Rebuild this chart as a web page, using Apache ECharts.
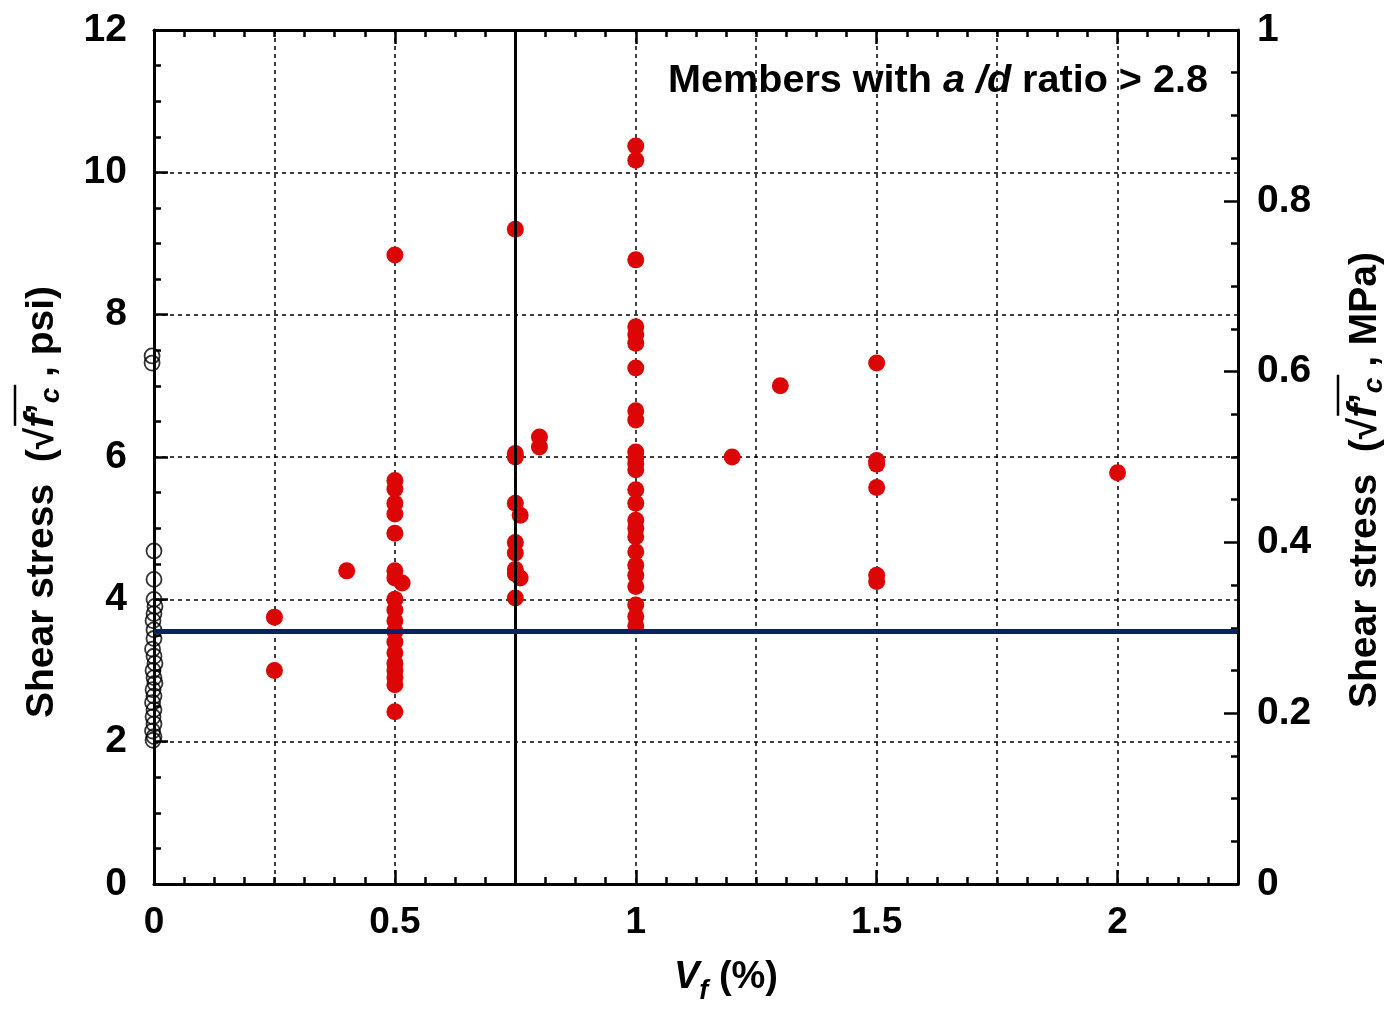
<!DOCTYPE html>
<html>
<head>
<meta charset="utf-8">
<script src="https://cdn.jsdelivr.net/npm/echarts@6/dist/echarts.min.js"></script>
<style>
html,body{margin:0;padding:0;background:#fff;overflow:hidden;}
#chart{position:absolute;left:0;top:0;width:1391px;height:1013px;}
</style>
</head>
<body>
<div id="chart"></div>
<script>
// ---- data ----
var plainVf = [-0.004,-0.004,0,0,0,0.002,0,-0.002,0,0,-0.003,0,0.002,-0.002,0,0.002,-0.002,0,-0.003,0,-0.002,0,-0.003,0,-0.002];
var plainStress = [7.42,7.32,4.68,4.28,4.0,3.9,3.8,3.7,3.57,3.45,3.3,3.2,3.1,3.0,2.9,2.82,2.73,2.64,2.55,2.45,2.35,2.25,2.15,2.07,2.02];

var fiberVf = [
  0.25,0.25,
  0.4,
  0.5,0.5,0.5,0.5,0.5,0.5,0.5,0.5,0.5,0.5,0.5,0.5,0.5,0.5,0.5,0.5,0.5,0.5,0.5,
  0.515,
  0.75,0.75,0.75,0.75,0.75,0.75,0.75,0.75,0.75,
  0.76,0.76,
  0.8,0.8,
  1,1,1,1,1,1,1,1,1,1,1,1,1,1,1,1,1,1,1,1,1,1,1,1,1,
  1.2,
  1.3,
  1.5,1.5,1.5,1.5,1.5,1.5,
  2.0
];
var fiberStress = [
  3.75,3.0,
  4.4,
  8.84,5.67,5.55,5.35,5.2,4.93,4.4,4.3,4.0,3.85,3.7,3.55,3.4,3.25,3.1,3.0,2.9,2.8,2.42,
  4.23,
  9.2,6.05,6.0,5.35,4.8,4.65,4.42,4.36,4.02,
  5.18,4.3,
  6.28,6.14,
  10.37,10.17,8.77,7.83,7.72,7.6,7.25,6.65,6.52,6.07,5.99,5.9,5.82,5.54,5.35,5.11,5.0,4.88,4.67,4.48,4.34,4.18,3.92,3.76,3.63,
  6.0,
  7.0,
  7.32,5.95,5.9,5.57,4.34,4.25,
  5.78
];

var vfDivider = 0.75;      // vertical reference line
var stressLimit = 3.55;    // horizontal reference line
var xTickLabels = [0,0.5,1,1.5,2];

function zip(a,b){ return a.map(function(v,i){ return [v,b[i]]; }); }

var FAM = '"Liberation Sans", Arial, sans-serif';
var FONT = FAM;
var dashed = {show:true, lineStyle:{color:'#000', width:1.5, type:[4,4]}};
var axLine = {show:true, onZero:false, lineStyle:{color:'#000', width:3}};

// composite text label (sequential fragments, optional overline), as graphic group
var mctx = document.createElement('canvas').getContext('2d');
function makeLabel(parts, opts){
  var x = 0, children = [], marks = [];
  parts.forEach(function(p){
    mctx.font = p.font;
    var w = mctx.measureText(p.t).width;
    marks.push([x, x + w]);
    children.push({type:'text', x:x, y:p.dy||0, silent:true,
      style:{text:p.t, font:p.font, fill:'#000', align:'left', verticalAlign:'middle'}});
    x += w;
  });
  var total = x;
  var shift = opts.anchor === 'left' ? 0 : total/2;
  children.forEach(function(c){ c.x -= shift; });
  if (opts.over){
    var a = marks[opts.over[0]][0] - shift + 2, b = marks[opts.over[1]][1] - shift + 3;
    children.push({type:'line', silent:true, shape:{x1:a, y1:opts.overY, x2:b, y2:opts.overY},
      style:{stroke:'#000', lineWidth:2.5}});
  }
  return {type:'group', x:opts.x, y:opts.y, rotation:opts.rot||0, silent:true, children:children};
}
var fN = 'bold 39px ' + FAM, fI = 'italic bold 41px ' + FAM, fS = 'italic bold 28px ' + FAM;
var leftName = makeLabel([
  {t:'Shear stress  (', font:fN},{t:'√', font:fN},{t:'f', font:fI},{t:'’', font:fN},
  {t:'c', font:fS, dy:9},{t:' , psi)', font:fN}
], {x:42, y:502, rot:Math.PI/2, over:[2,4], overY:-27});
var rightName = makeLabel([
  {t:'Shear stress  (', font:fN},{t:'√', font:fN},{t:'f', font:fI},{t:'’', font:fN},
  {t:'c', font:fS, dy:9},{t:' , MPa)', font:fN}
], {x:1365, y:480, rot:Math.PI/2, over:[2,4], overY:-27});
var xName = makeLabel([
  {t:'V', font:'italic bold 38px ' + FAM},{t:'f', font:'italic bold 27px ' + FAM, dy:14},
  {t:' (%)', font:'bold 38px ' + FAM}
], {x:674, y:978, anchor:'left'});

var chart = echarts.init(document.getElementById('chart'), null, {renderer:'canvas'});
chart.setOption({
  animation:false,
  backgroundColor:'#fff',
  grid:{left:154, right:153, top:30, bottom:129, containLabel:false, outerBoundsMode:'none'},
  title:{
    text:'Members with {i|a /d} ratio > 2.8',
    right:178, top:56,
    textStyle:{fontFamily:FONT, fontWeight:'bold', fontSize:39.6, color:'#000',
      rich:{i:{fontFamily:FONT, fontWeight:'bold', fontStyle:'italic', fontSize:39.6, color:'#000'}}}
  },
  graphic:[leftName, rightName, xName],
  xAxis:[
    { // main bottom axis with labels
      type:'value', min:0, max:2.25, interval:0.25, position:'bottom',
      axisLine:axLine,
      axisTick:{show:true, inside:true, length:7, lineStyle:{color:'#000', width:2.5}},
      minorTick:{show:true, splitNumber:4, length:7, lineStyle:{color:'#000', width:2.5}},
      splitLine:dashed,
      axisLabel:{show:true, margin:20, formatter:function(v){
        var k = Math.round(v*100);
        if (xTickLabels.some(function(t){return Math.round(t*100)===k;})) return String(v);
        return '';
      }, fontFamily:FONT, fontWeight:'bold', fontSize:37, color:'#000'}
    },
    { // tall major ticks bottom
      type:'value', min:0, max:2.25, interval:0.5, position:'bottom',
      axisLine:{show:false, onZero:false},
      axisTick:{show:true, inside:true, length:14, lineStyle:{color:'#000', width:2.5}},
      splitLine:{show:false}, axisLabel:{show:false}
    },
    { // top axis
      type:'value', min:0, max:2.25, interval:0.25, position:'top',
      axisLine:axLine,
      axisTick:{show:true, inside:true, length:7, lineStyle:{color:'#000', width:2.5}},
      minorTick:{show:true, splitNumber:4, length:7, lineStyle:{color:'#000', width:2.5}},
      splitLine:{show:false}, axisLabel:{show:false}
    },
    { // tall major ticks top
      type:'value', min:0, max:2.25, interval:0.5, position:'top',
      axisLine:{show:false, onZero:false},
      axisTick:{show:true, inside:true, length:14, lineStyle:{color:'#000', width:2.5}},
      splitLine:{show:false}, axisLabel:{show:false}
    }
  ],
  yAxis:[
    {
      type:'value', min:0, max:12, interval:2, position:'left',
      axisLine:axLine,
      axisTick:{show:true, inside:true, length:14, lineStyle:{color:'#000', width:2.5}},
      minorTick:{show:true, splitNumber:4, length:7, lineStyle:{color:'#000', width:2.5}},
      splitLine:dashed,
      axisLabel:{margin:27, formatter:function(v){return String(v);}, fontFamily:FONT, fontWeight:'bold', fontSize:39, color:'#000'}
    },
    {
      type:'value', min:0, max:1, interval:0.2, position:'right',
      axisLine:axLine,
      axisTick:{show:true, inside:true, length:14, lineStyle:{color:'#000', width:2.5}},
      minorTick:{show:true, splitNumber:4, length:7, lineStyle:{color:'#000', width:2.5}},
      splitLine:{show:false},
      axisLabel:{margin:19, formatter:function(v){return String(Math.round(v*10)/10);}, fontFamily:FONT, fontWeight:'bold', fontSize:39, color:'#000'}
    }
  ],
  series:[
    {
      type:'scatter', xAxisIndex:0, yAxisIndex:0, clip:false,
      data: zip(plainVf, plainStress),
      symbol:'circle', symbolSize:15,
      itemStyle:{color:'rgba(255,255,255,0)', borderColor:'#000', borderWidth:1.8},
      z:3
    },
    {
      type:'scatter', xAxisIndex:0, yAxisIndex:0, clip:false,
      data: zip(fiberVf, fiberStress),
      symbol:'circle', symbolSize:17,
      itemStyle:{color:'#dd0606', opacity:1},
      z:4
    },
    {
      type:'line', xAxisIndex:0, yAxisIndex:0, data:[], silent:true,
      markLine:{
        silent:true, symbol:['none','none'], label:{show:false}, animation:false,
        data:[
          {xAxis: vfDivider, lineStyle:{color:'#000', width:3, type:'solid'}},
          {yAxis: stressLimit, lineStyle:{color:'#0a2166', width:5, type:'solid'}}
        ]
      },
      z:5
    }
  ]
});
</script>
</body>
</html>
